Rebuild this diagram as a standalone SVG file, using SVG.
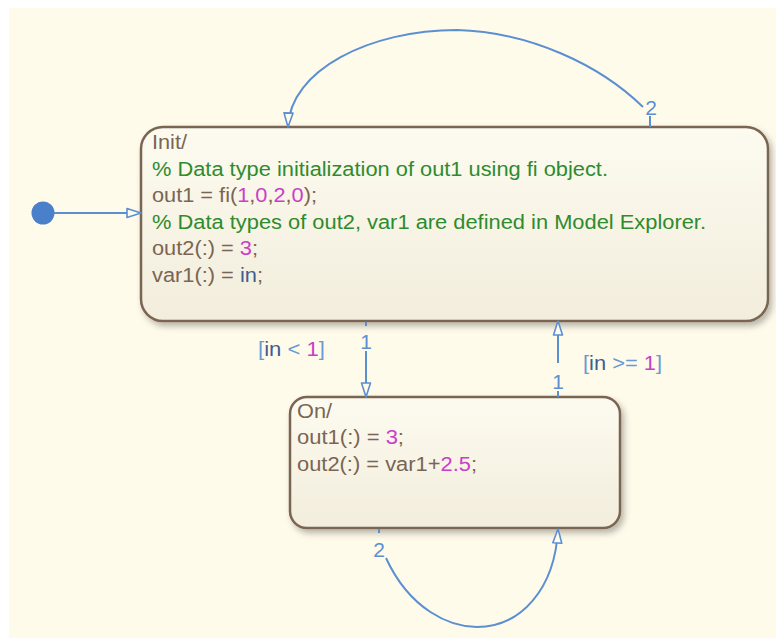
<svg xmlns="http://www.w3.org/2000/svg" width="776" height="638" viewBox="0 0 776 638">
<defs>
<linearGradient id="stateFill" x1="0" y1="0" x2="0" y2="1">
<stop offset="0" stop-color="#FDFBF0"/>
<stop offset="1" stop-color="#F2EDDC"/>
</linearGradient>
<filter id="shadow" x="-10%" y="-10%" width="125%" height="130%">
<feDropShadow dx="3" dy="4" stdDeviation="3" flood-color="#000" flood-opacity="0.28"/>
</filter>
<marker id="arrow" viewBox="0 0 16 12" refX="15" refY="6" markerWidth="16" markerHeight="12" markerUnits="userSpaceOnUse" orient="auto">
<path d="M1,1.5 L15,6 L1,10.5 Z" fill="#FEFBEE" stroke="#5B8FD2" stroke-width="1.6" stroke-linejoin="round"/>
</marker>
<style>
.bg{fill:#FFFBEB}
.state{fill:url(#stateFill);stroke:#7A6552;stroke-width:2.5;filter:url(#shadow)}
.t{font-family:"Liberation Sans",Arial,sans-serif;font-size:20px;fill:#7A6553}
.c{fill:#2E8B2E}
.n{fill:#C93FC9}
.v{fill:#3F5E90}
.lb{fill:#6A9AD4}
.tr{fill:none;stroke:#5B8FD2;stroke-width:2}
.num{font-family:"Liberation Sans",Arial,sans-serif;font-size:21px;fill:#5B8FD2;text-anchor:middle}
</style>
</defs>
<rect x="0" y="0" width="776" height="638" fill="#FFFFFF"/>
<rect class="bg" x="9" y="8" width="767" height="630"/>

<g id="Init">
<rect class="state" x="141" y="127" width="627" height="194" rx="22" ry="22"/>
<text class="t" x="152" y="149" textLength="35" lengthAdjust="spacingAndGlyphs">Init/</text>
<text class="t c" x="152" y="175.5" textLength="456" lengthAdjust="spacingAndGlyphs">% Data type initialization of out1 using fi object.</text>
<text class="t" x="152" y="202" textLength="165" lengthAdjust="spacingAndGlyphs">out1 = fi(<tspan class="n">1</tspan>,<tspan class="n">0</tspan>,<tspan class="n">2</tspan>,<tspan class="n">0</tspan>);</text>
<text class="t c" x="152" y="228.5" textLength="554" lengthAdjust="spacingAndGlyphs">% Data types of out2, var1 are defined in Model Explorer.</text>
<text class="t" x="152" y="255" textLength="106" lengthAdjust="spacingAndGlyphs">out2(:) = <tspan class="n">3</tspan>;</text>
<text class="t" x="152" y="281.5" textLength="111" lengthAdjust="spacingAndGlyphs">var1(:) = <tspan class="v">in</tspan>;</text>
</g>

<g id="On">
<rect class="state" x="290" y="397" width="330" height="131" rx="17" ry="17"/>
<text class="t" x="297" y="418" textLength="35" lengthAdjust="spacingAndGlyphs">On/</text>
<text class="t" x="297" y="444" textLength="107" lengthAdjust="spacingAndGlyphs">out1(:) = <tspan class="n">3</tspan>;</text>
<text class="t" x="297" y="470.5" textLength="180" lengthAdjust="spacingAndGlyphs">out2(:) = var1+<tspan class="n">2.5</tspan>;</text>
</g>

<g id="default-transition">
<circle cx="43" cy="213" r="11.5" fill="#4A80CA"/>
</g>

<g id="connectors">
<path class="tr" d="M54 213 L141 213" marker-end="url(#arrow)"/>
<path class="tr" d="M650 127 L650 116"/>
<path class="tr" d="M643 107 C600 65, 530 32, 457 30 C370 30, 290 70, 288 127" marker-end="url(#arrow)"/>
<text class="num" x="651" y="115">2</text>
<path class="tr" d="M366 322 L366 326"/>
<text class="num" x="366" y="349">1</text>
<path class="tr" d="M366 351 L366 397" marker-end="url(#arrow)"/>
<text class="t" x="258" y="356" textLength="67" lengthAdjust="spacingAndGlyphs"><tspan class="lb">[</tspan><tspan class="v">in</tspan><tspan class="lb"> &lt; </tspan><tspan class="n">1</tspan><tspan class="lb">]</tspan></text>
<path class="tr" d="M558 397 L558 391"/>
<text class="num" x="558" y="389">1</text>
<path class="tr" d="M558 363 L558 321" marker-end="url(#arrow)"/>
<text class="t" x="583" y="370" textLength="79" lengthAdjust="spacingAndGlyphs"><tspan class="lb">[</tspan><tspan class="v">in</tspan><tspan class="lb"> &gt;= </tspan><tspan class="n">1</tspan><tspan class="lb">]</tspan></text>
<path class="tr" d="M379 529 L379 533"/>
<text class="num" x="379" y="557">2</text>
<path class="tr" d="M386 558 C410 610, 450 627, 477 627 C520 627, 555 590, 558 529" marker-end="url(#arrow)"/>
</g>
</svg>
